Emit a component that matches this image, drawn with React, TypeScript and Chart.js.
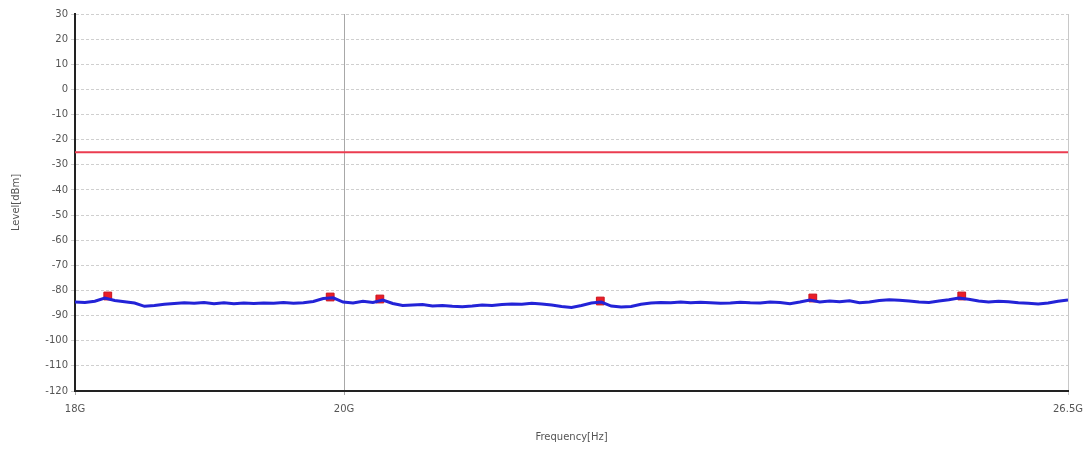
import React, { useEffect, useRef } from "react";
import { Chart, registerables } from "chart.js";

Chart.register(...registerables);

// Trace levels (dBm) sampled evenly across the sweep (index 0..100)
const traceLevels: number[] = [
  -84.6, -84.8, -84.3, -83.0, -84.0, -84.5, -85.0, -86.3, -86.0, -85.5,
  -85.2, -84.9, -85.1, -84.8, -85.3, -84.9, -85.3, -85.0, -85.2, -85.0,
  -85.1, -84.8, -85.1, -84.9, -84.4, -83.2, -82.9, -84.6, -85.0, -84.3,
  -84.8, -83.8, -85.2, -86.0, -85.8, -85.6, -86.2, -86.0, -86.3, -86.5,
  -86.2, -85.8, -86.0, -85.6, -85.4, -85.5, -85.1, -85.4, -85.8, -86.4,
  -86.8, -86.0, -85.0, -84.6, -86.2, -86.6, -86.4, -85.5, -85.0, -84.8,
  -84.9, -84.6, -84.9, -84.7, -84.9, -85.1, -85.0, -84.7, -84.9, -85.0,
  -84.6, -84.8, -85.3, -84.6, -83.8, -84.6, -84.2, -84.5, -84.1, -84.9,
  -84.6, -84.0, -83.7, -83.9, -84.2, -84.6, -84.8, -84.2, -83.7, -83.0,
  -83.5, -84.2, -84.6, -84.3, -84.5, -84.9, -85.1, -85.4, -85.0, -84.3,
  -83.8,
];

// Peak markers (sweep index position, level dBm)
const markerPos: number[] = [3.3, 25.7, 30.7, 52.9, 74.3, 89.3];
const markerLevels: number[] = [-82.2, -82.6, -83.4, -84.2, -83.0, -82.2];

// Limit line
const limitLevel = -25;

// X axis ticks (sweep index position) and labels
const xTickPos: number[] = [0, 27.1, 100];
const xTickLabels: string[] = ["18G", "20G", "26.5G"];

const yMin = -120;
const yMax = 30;

export default function App() {
  const ref = useRef<HTMLCanvasElement>(null);

  useEffect(() => {
    if (!ref.current) return;
    const font = { family: "'DejaVu Sans', sans-serif", size: 10 };
    const chart = new Chart(ref.current, {
      type: "line",
      data: {
        datasets: [
          {
            label: "Limit",
            data: [
              { x: 0, y: limitLevel },
              { x: traceLevels.length - 1, y: limitLevel },
            ],
            borderColor: "rgb(235,60,80)",
            borderWidth: 2,
            pointRadius: 0,
          },
          {
            label: "Trace",
            data: traceLevels.map((v, i) => ({ x: i, y: v })),
            borderColor: "rgb(35,35,215)",
            borderWidth: 3,
            pointRadius: 0,
            tension: 0,
          },
          {
            label: "Markers",
            data: markerPos.map((p, i) => ({ x: p, y: markerLevels[i] })),
            showLine: false,
            pointStyle: "rect",
            pointRadius: 5.5,
            backgroundColor: "rgb(235,30,40)",
            borderColor: "rgb(200,20,30)",
            borderWidth: 1,
          },
        ],
      },
      options: {
        responsive: false,
        animation: false,
        layout: { padding: { top: 14, right: 24, left: 0, bottom: 0 } },
        plugins: { legend: { display: false }, tooltip: { enabled: false } },
        scales: {
          x: {
            type: "linear",
            min: 0,
            max: traceLevels.length - 1,
            afterBuildTicks: (s: any) => {
              s.ticks = xTickPos.map((v) => ({ value: v }));
            },
            afterFit: (s: any) => {
              s.height = 58;
            },
            ticks: {
              autoSkip: false,
              maxRotation: 0,
              padding: 8,
              color: "#555",
              font,
              callback: (v: any) => {
                const idx = xTickPos.indexOf(Number(v));
                return idx >= 0 ? xTickLabels[idx] : "";
              },
            },
            grid: {
              tickLength: 4,
              color: (ctx: any) =>
                ctx.tick && ctx.tick.value === xTickPos[2] ? "#c8c8c8" : "#a8a8a8",
              lineWidth: 1,
            },
            border: { display: true, color: "#222", width: 2 },
            title: {
              display: true,
              text: "Frequency[Hz]",
              color: "#555",
              font,
              padding: { top: 4, bottom: 6 },
            },
          },
          y: {
            min: yMin,
            max: yMax,
            afterFit: (s: any) => {
              s.width = 75;
            },
            ticks: { stepSize: 10, padding: 3, color: "#555", font },
            grid: { tickLength: 4, color: "#cfcfcf", lineWidth: 1 },
            border: { display: true, color: "#222", width: 2, dash: [3, 2] },
            title: {
              display: true,
              text: "Level[dBm]",
              color: "#555",
              font,
              padding: { top: 10, bottom: 4 },
            },
          },
        },
      },
    } as any);
    return () => chart.destroy();
  }, []);

  return (
    <div style={{ position: "absolute", left: 0, top: 0, width: 1092, height: 449, background: "#fff" }}>
      <canvas ref={ref} width={1092} height={449} />
    </div>
  );
}
